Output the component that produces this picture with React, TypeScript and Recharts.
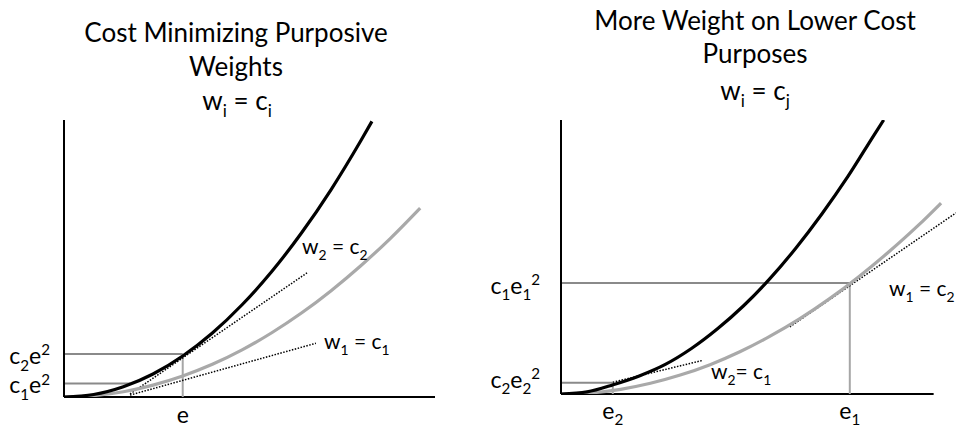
import React from 'react'
import { LineChart, Line, XAxis, YAxis, ReferenceLine } from 'recharts'

const FONT = 'Lato, "Open Sans", sans-serif'
const GRAY_CURVE = '#a9a9a9'
const GRAY_GUIDE = '#8a8a8a'

// left panel: w_i = c_i
const leftBlackX = [0, 8, 16, 24, 32, 40, 48, 56, 64, 72, 80, 83]
const leftBlack = [0, 0.9, 3.7, 8.3, 14.8, 23.1, 33.3, 45.3, 59.2, 74.9, 92.5, 99.5]
const leftGrayX = [0, 8, 16, 24, 32, 40, 48, 56, 64, 72, 80, 88, 96]
const leftGray = [0, 0.5, 1.9, 4.3, 7.6, 11.8, 17.0, 23.2, 30.3, 38.4, 47.4, 57.3, 68.2]
const leftLevels = [4.9, 15.5]
const leftLevelEnds = [17.8, 32]
const leftMarks = [32]
const leftMarkTops = [15.5]
const leftTangents = [
  [[17.8, 1.1], [65.5, 44.8]],
  [[17.8, 0.7], [67.9, 19.4]],
]

// right panel: w_i = c_j
const rightBlackX = [0, 7, 14, 21, 28, 35, 42, 49, 56, 63, 70, 77, 84, 86.6]
const rightBlack = [0, 0.8, 3.4, 6.6, 10.8, 16.6, 23.8, 32.2, 42, 53.2, 65.7, 79.4, 94.5, 100]
const rightGrayX = [0, 8, 16, 24, 32, 40, 48, 56, 64, 72, 80, 88, 96, 102]
const rightGray = [0, 0.4, 1.7, 3.9, 6.9, 10.7, 15.4, 21.0, 27.4, 34.7, 42.9, 51.9, 61.7, 69.7]
const rightLevels = [4.1, 40.5]
const rightLevelEnds = [13.9, 77.5]
const rightMarks = [13.9, 77.5]
const rightMarkTops = [4.1, 40.5]
const rightTangents = [
  [[13.9, 4.3], [37.8, 12.2]],
  [[61.4, 24.5], [106, 66.1]],
]

type Part = [string, 'n' | 'sub' | 'sup']

// tick labels
const leftYLabels: Part[][] = [
  [['c', 'n'], ['1', 'sub'], ['e', 'n'], ['2', 'sup']],
  [['c', 'n'], ['2', 'sub'], ['e', 'n'], ['2', 'sup']],
]
const leftXLabels: Part[][] = [[['e', 'n']]]
const rightYLabels: Part[][] = [
  [['c', 'n'], ['2', 'sub'], ['e', 'n'], ['2', 'sub'], ['2', 'sup']],
  [['c', 'n'], ['1', 'sub'], ['e', 'n'], ['1', 'sub'], ['2', 'sup']],
]
const rightXLabels: Part[][] = [
  [['e', 'n'], ['2', 'sub']],
  [['e', 'n'], ['1', 'sub']],
]

function Rich({ x, y, parts, size, anchor = 'start' }: { x: number; y: number; parts: Part[]; size: number; anchor?: string }) {
  let shift = 0
  return (
    <text x={x} y={y} fontSize={size} fontFamily={FONT} fill="#000" textAnchor={anchor} style={{ whiteSpace: 'pre' }}>
      {parts.map(([t, k], i) => {
        const target = k === 'sub' ? size * 0.28 : k === 'sup' ? -size * 0.38 : 0
        const dy = target - shift
        shift = target
        return (
          <tspan key={i} dy={dy} fontSize={k === 'n' ? size : size * 0.66}>{t}</tspan>
        )
      })}
    </text>
  )
}

const toPts = (xs: number[], ys: number[]) => xs.map((x, i) => ({ x, y: ys[i] }))

function Panel(props: any) {
  const { left, width, margin, xMax, axisEnd, blackX, black, grayX, gray, levels, levelEnds,
    marks, markTops, tangents, yLabels, xLabels, yLabelDy, xLabelDy } = props
  return (
    <div style={{ position: 'absolute', left, top: 0 }}>
      <LineChart width={width} height={428} margin={margin}>
        <XAxis
          type="number" dataKey="x" domain={[0, xMax]} allowDataOverflow
          ticks={marks} interval={0} axisLine={false} tickLine={false} tickSize={0} tickMargin={0} height={margin.xh}
          tick={({ x, y, index }: any) => (
            <Rich x={x} y={y + xLabelDy} parts={xLabels[index]} size={23} anchor="middle" />
          )}
        />
        <YAxis
          type="number" dataKey="y" domain={[0, 100]} allowDataOverflow
          ticks={levels} interval={0} width={60} tickLine={false} tickSize={0} tickMargin={0}
          axisLine={{ stroke: '#000', strokeWidth: 2 }}
          tick={({ x, y, index }: any) => (
            <Rich x={x - yLabelDy[index][0]} y={y + yLabelDy[index][1]} parts={yLabels[index]} size={23} anchor="end" />
          )}
        />
        <ReferenceLine segment={[{ x: 0, y: 0 }, { x: axisEnd, y: 0 }]} stroke="#000" strokeWidth={2} ifOverflow="visible" />
        {levels.map((v: number, i: number) => (
          <ReferenceLine key={'h' + i} segment={[{ x: 0, y: v }, { x: levelEnds[i], y: v }]} stroke={GRAY_GUIDE} strokeWidth={2} />
        ))}
        {marks.map((v: number, i: number) => (
          <ReferenceLine key={'v' + i} segment={[{ x: v, y: 0 }, { x: v, y: markTops[i] }]} stroke="#a6a6a6" strokeWidth={2} />
        ))}
        {tangents.map((t: number[][], i: number) => (
          <ReferenceLine key={'t' + i} segment={[{ x: t[0][0], y: t[0][1] }, { x: t[1][0], y: t[1][1] }]}
            stroke="#000" strokeWidth={1.5} strokeDasharray="1.5 1.5" ifOverflow="visible" />
        ))}
        <Line data={toPts(grayX, gray)} dataKey="y" type="monotone" stroke={GRAY_CURVE} strokeWidth={3.2} dot={false} isAnimationActive={false} />
        <Line data={toPts(blackX, black)} dataKey="y" type="monotone" stroke="#000" strokeWidth={3.2} dot={false} isAnimationActive={false} />
      </LineChart>
    </div>
  )
}

export default function App() {
  return (
    <div style={{ position: 'absolute', left: 0, top: 0, width: 956, height: 428, background: '#fff', overflow: 'hidden' }}>
      <Panel
        left={0} width={478} margin={{ top: 120, right: 43, bottom: 0, left: 4, xh: 31 }}
        xMax={100} axisEnd={100}
        blackX={leftBlackX} black={leftBlack} grayX={leftGrayX} gray={leftGray}
        levels={leftLevels} levelEnds={leftLevelEnds} marks={leftMarks} markTops={leftMarkTops}
        tangents={leftTangents} yLabels={leftYLabels} xLabels={leftXLabels}
        yLabelDy={[[14, 10], [14, 10]]} xLabelDy={26}
      />
      <Panel
        left={478} width={478} margin={{ top: 120, right: 0, bottom: 0, left: 23, xh: 34 }}
        xMax={106} axisEnd={100}
        blackX={rightBlackX} black={rightBlack} grayX={rightGrayX} gray={rightGray}
        levels={rightLevels} levelEnds={rightLevelEnds} marks={rightMarks} markTops={rightMarkTops}
        tangents={rightTangents} yLabels={rightYLabels} xLabels={rightXLabels}
        yLabelDy={[[21, 5], [21, 11]]} xLabelDy={25}
      />
      <svg width={956} height={428} style={{ position: 'absolute', left: 0, top: 0, pointerEvents: 'none' }}>
        <Rich x={236} y={42} parts={[['Cost Minimizing Purposive', 'n']]} size={26} anchor="middle" />
        <Rich x={236} y={76} parts={[['Weights', 'n']]} size={26} anchor="middle" />
        <Rich x={237} y={110} parts={[['w', 'n'], ['i', 'sub'], [' = c', 'n'], ['i', 'sub']]} size={26} anchor="middle" />
        <Rich x={755} y={30} parts={[['More Weight on Lower Cost', 'n']]} size={26} anchor="middle" />
        <Rich x={755} y={63} parts={[['Purposes', 'n']]} size={26} anchor="middle" />
        <Rich x={755} y={100} parts={[['w', 'n'], ['i', 'sub'], [' = c', 'n'], ['j', 'sub']]} size={26} anchor="middle" />
        <Rich x={302} y={254} parts={[['w', 'n'], ['2', 'sub'], [' = c', 'n'], ['2', 'sub']]} size={21} />
        <Rich x={324} y={349} parts={[['w', 'n'], ['1', 'sub'], [' = c', 'n'], ['1', 'sub']]} size={21} />
        <Rich x={889} y={296} parts={[['w', 'n'], ['1', 'sub'], [' = c', 'n'], ['2', 'sub']]} size={21} />
        <Rich x={711} y={379} parts={[['w', 'n'], ['2', 'sub'], ['= c', 'n'], ['1', 'sub']]} size={21} />
      </svg>
    </div>
  )
}
